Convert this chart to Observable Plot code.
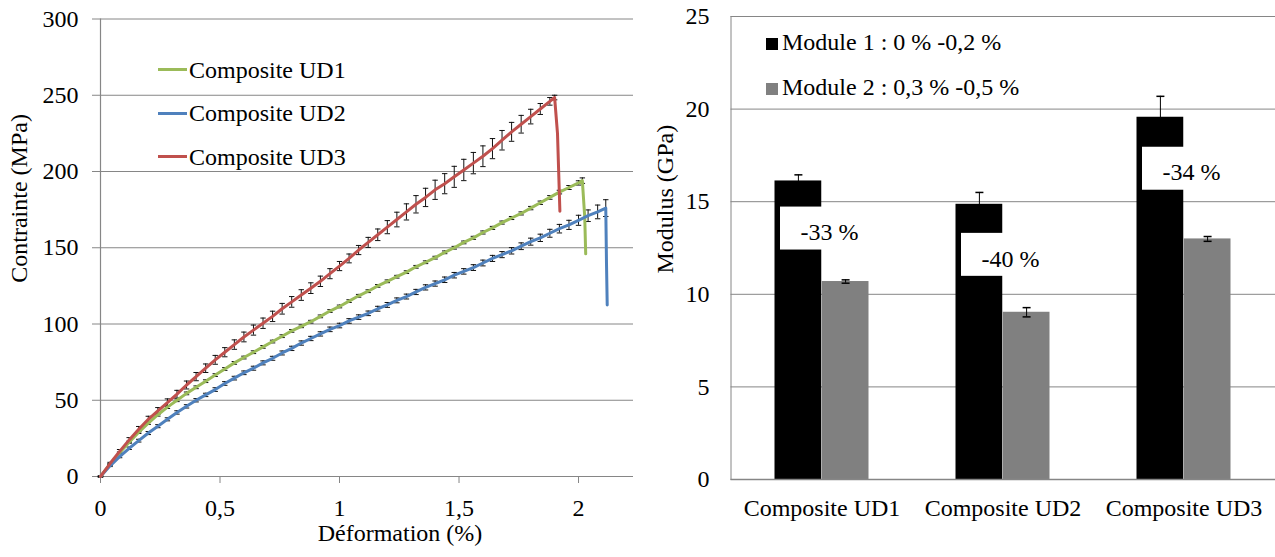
<!DOCTYPE html>
<html>
<head>
<meta charset="utf-8">
<script src="https://cdn.jsdelivr.net/npm/d3@7"></script>
<script src="https://cdn.jsdelivr.net/npm/@observablehq/plot@0.6"></script>
<style>
  html, body { margin: 0; padding: 0; background: #fff; }
  #wrap { position: relative; width: 1275px; height: 557px; overflow: hidden; font-family: "Liberation Serif", "Times New Roman", Tinos, "DejaVu Serif", serif; }
  #wrap svg, #wrap svg text { font-family: "Liberation Serif", "Times New Roman", Tinos, "DejaVu Serif", serif !important; }
  #left { position: absolute; left: 0; top: 0; }
  #right { position: absolute; left: 640px; top: 0; }
  .leg { position: absolute; font-size: 24px; line-height: 28px; color: #000; white-space: nowrap; }
  .lrow { display: flex; align-items: center; height: 28px; }
  .sw { display: inline-block; width: 29px; height: 3px; margin-right: 2px; }
  .sq { display: inline-block; width: 12px; height: 12px; margin-right: 4px; vertical-align: baseline; }
</style>
</head>
<body>
<div id="wrap">
  <div id="left"></div>
  <div id="right"></div>
  <div class="leg" style="left:158px; top:55.5px;"><div class="lrow"><span class="sw" style="background:#9BBB59"></span>Composite UD1</div></div>
  <div class="leg" style="left:158px; top:99px;"><div class="lrow"><span class="sw" style="background:#4F81BD"></span>Composite UD2</div></div>
  <div class="leg" style="left:158px; top:142.5px;"><div class="lrow"><span class="sw" style="background:#C0504D"></span>Composite UD3</div></div>
  <div class="leg" style="left:766px; top:28px;"><span class="sq" style="background:#000"></span>Module 1 : 0 % -0,2 %</div>
  <div class="leg" style="left:766px; top:73px;"><span class="sq" style="background:#808080"></span>Module 2 : 0,3 % -0,5 %</div>
</div>
<script>
// ---------- Left chart data: stress-strain curves ----------
const xTicksL = [0, 0.5, 1, 1.5, 2];
const yTicksL = [0, 50, 100, 150, 200, 250, 300];

const strainUD1 = [0,0.04,0.08,0.12,0.16,0.20,0.24,0.28,0.32,0.36,0.40,0.44,0.48,0.52,0.56,0.60,0.64,0.68,0.72,0.76,0.80,0.84,0.88,0.92,0.96,1.00,1.04,1.08,1.12,1.16,1.20,1.24,1.28,1.32,1.36,1.40,1.44,1.48,1.52,1.56,1.60,1.64,1.68,1.72,1.76,1.80,1.84,1.88,1.92,1.96,2.00,2.016,2.026,2.03];
const stressUD1 = [0,8,15.5,22.5,29,35,40.5,45.5,50,54.5,58.5,62.5,66.5,70.5,74.5,78,81.5,85,88.5,92,95.5,98.5,101.5,105,108.5,111.5,115,118.5,121.5,125,128,131,134,137.5,140.5,143.5,147,150,153.5,156.5,160,163,166.5,169.5,172.5,176,179.5,183,186.5,189.5,192.5,194,170,146];
const errUD1 = [0.3,0.5,0.6,0.7,0.8,0.8,0.9,0.9,0.9,0.9,0.9,0.9,0.9,0.9,0.9,0.9,0.9,0.9,0.9,0.9,0.9,0.9,0.9,0.9,0.9,0.9,0.9,0.9,0.9,0.9,0.9,0.9,0.9,0.9,0.9,0.9,0.9,0.9,0.9,1.0,1.0,1.0,1.0,1.0,1.0,1.1,1.1,1.2,1.2,1.3,1.4,1.8,0,0];

const strainUD2 = [0,0.04,0.08,0.12,0.16,0.20,0.24,0.28,0.32,0.36,0.40,0.44,0.48,0.52,0.56,0.60,0.64,0.68,0.72,0.76,0.80,0.84,0.88,0.92,0.96,1.00,1.04,1.08,1.12,1.16,1.20,1.24,1.28,1.32,1.36,1.40,1.44,1.48,1.52,1.56,1.60,1.64,1.68,1.72,1.76,1.80,1.84,1.88,1.92,1.96,2.00,2.04,2.08,2.114,2.117,2.12];
const stressUD2 = [0,7,13,18.5,23.5,28.5,33,37.5,42,46,50,53.5,57,61,64.5,68,71,74.5,77.5,81,84,87.5,90.5,93.5,96.5,99,102,104.5,107,110,112.5,115.5,118,121,124,126.5,129,132,134.5,137,140,143,145.5,148,151,154,156.5,159.5,162.5,165,168,171,173.5,176,140,112.5];
const errUD2 = [0.3,0.5,0.7,0.8,0.9,1.0,1.0,1.0,1.1,1.1,1.1,1.1,1.2,1.2,1.2,1.2,1.3,1.3,1.3,1.3,1.4,1.4,1.4,1.4,1.5,1.5,1.5,1.5,1.5,1.6,1.6,1.6,1.6,1.7,1.7,1.7,1.8,1.8,1.8,1.9,1.9,2.0,2.0,2.1,2.2,2.3,2.4,2.6,2.8,3.0,3.3,3.8,4.5,5.5,0,0];

const strainUD3 = [0,0.04,0.08,0.12,0.16,0.20,0.24,0.28,0.32,0.36,0.40,0.44,0.48,0.52,0.56,0.60,0.64,0.68,0.72,0.76,0.80,0.84,0.88,0.92,0.96,1.00,1.04,1.08,1.12,1.16,1.20,1.24,1.28,1.32,1.36,1.40,1.44,1.48,1.52,1.56,1.60,1.64,1.68,1.72,1.76,1.80,1.84,1.88,1.90,1.912,1.922];
const stressUD3 = [0,8.5,16.5,24,31,37.5,43,48.5,54,60,65.5,71,76.5,81.5,86.5,91.5,96,100.5,105,110,114.5,119,123.5,128,133,138,143,148.5,153.5,158.5,163.5,168.5,173.5,178.5,183,188,192,196.5,201,205.5,210,215,220.5,226,231,236,241,246,248.5,225,174];
const errUD3 = [0.3,0.8,1.2,1.5,1.8,2.0,2.2,2.4,2.5,2.6,2.7,2.8,2.9,3.0,3.1,3.2,3.3,3.4,3.4,3.5,3.5,3.5,3.5,3.4,3.3,3.0,2.9,3.0,3.3,3.8,4.3,4.8,5.3,5.7,6.0,6.3,6.6,6.9,7.0,7.0,6.8,6.6,6.4,6.2,5.8,4.8,3.6,2.5,1.5,0,0];

const seriesNames = ["Composite UD1", "Composite UD2", "Composite UD3"];
const seriesColors = ["#9BBB59", "#4F81BD", "#C0504D"];

// ---------- Right chart data: moduli ----------
const categories = ["Composite UD1", "Composite UD2", "Composite UD3"];
const module1 = [16.12, 14.86, 19.56];
const module1Err = [0.33, 0.64, 1.13];
const module2 = [10.69, 9.03, 12.99];
const module2Err = [0.09, 0.25, 0.13];
const annotLabels = ["-33 %", "-40 %", "-34 %"];
const annotY = [13.55, 12.13, 16.78];
const yTicksR = [0, 5, 10, 15, 20, 25];

// ---------- build tables ----------
const GRID = "#868686";
const FONT = "'Liberation Serif', 'Times New Roman', Tinos, 'DejaVu Serif', serif";
const curves = [
  {name: seriesNames[0], color: seriesColors[0], strain: strainUD1, stress: stressUD1, err: errUD1},
  {name: seriesNames[1], color: seriesColors[1], strain: strainUD2, stress: stressUD2, err: errUD2},
  {name: seriesNames[2], color: seriesColors[2], strain: strainUD3, stress: stressUD3, err: errUD3}
].map(c => ({...c, rows: c.strain.map((x, i) => ({x, y: c.stress[i], e: c.err[i]}))}));
const errRows = curves.flatMap(c => c.rows.filter(r => r.e > 0));

const capSymbol = {
  draw(ctx, size) {
    const r = Math.sqrt(size / Math.PI);
    ctx.moveTo(-r, 0);
    ctx.lineTo(r, 0);
  }
};

const left = Plot.plot({
  width: 640, height: 557,
  marginLeft: 100, marginRight: 7, marginTop: 18.5, marginBottom: 81,
  x: {domain: [0, 2.23]},
  y: {domain: [0, 300]},
  style: {fontFamily: FONT, fontSize: "24px", background: "#fff", color: "#000"},
  marks: [
    Plot.ruleY(yTicksL.filter(v => v > 0), {stroke: GRID, strokeWidth: 1}),
    Plot.ruleY([0], {stroke: GRID, strokeWidth: 1.2}),
    Plot.ruleX([0], {stroke: GRID, strokeWidth: 1.2}),
    Plot.axisY({ticks: yTicksL, tickSize: 8, tickPadding: 14, stroke: GRID, fill: "#000", fontSize: 24, label: null}),
    Plot.axisX({ticks: xTicksL, tickSize: 7, tickPadding: 15, stroke: GRID, fill: "#000", fontSize: 24, label: null,
      tickFormat: d => String(d).replace(".", ",")}),
    Plot.ruleX(errRows, {x: "x", y1: d => d.y - d.e, y2: d => d.y + d.e, stroke: "#111", strokeWidth: 1}),
    Plot.dot(errRows, {x: "x", y: d => d.y + d.e, symbol: capSymbol, r: 2.7, stroke: "#111", fill: "none", strokeWidth: 1}),
    Plot.dot(errRows, {x: "x", y: d => d.y - d.e, symbol: capSymbol, r: 2.7, stroke: "#111", fill: "none", strokeWidth: 1}),
    ...curves.map(c => Plot.line(c.rows, {x: "x", y: "y", stroke: c.color, strokeWidth: 3})),
    Plot.text(["Contrainte (MPa)"], {frameAnchor: "left", rotate: -90, dx: -81, dy: 35, fontSize: 24, fill: "#000"}),
    Plot.text(["Déformation (%)"], {frameAnchor: "bottom", dx: 33, dy: 64, fontSize: 24, fill: "#000"})
  ]
});
document.getElementById("left").append(left);

const bars1 = categories.map((cat, i) => ({cat, v: module1[i], e: module1Err[i]}));
const bars2 = categories.map((cat, i) => ({cat, v: module2[i], e: module2Err[i]}));
const annots = categories.map((cat, i) => ({cat, y: annotY[i], label: annotLabels[i]}));
const OFF = 23.6;

const right = Plot.plot({
  width: 635, height: 557,
  marginLeft: 90.5, marginRight: 0, marginTop: 16, marginBottom: 78,
  x: {domain: categories, padding: 0},
  y: {domain: [0, 25]},
  style: {fontFamily: FONT, fontSize: "24px", background: "#fff", color: "#000"},
  marks: [
    Plot.ruleY(yTicksR.filter(v => v > 0), {stroke: GRID, strokeWidth: 1}),
    Plot.barY(bars1, {x: "cat", y: "v", fill: "#000", insetLeft: 43.5, insetRight: 90.75}),
    Plot.barY(bars2, {x: "cat", y: "v", fill: "#808080", insetLeft: 90.75, insetRight: 43.5}),
    Plot.ruleX(bars1, {x: "cat", y1: d => d.v - d.e, y2: d => d.v + d.e, dx: -OFF, stroke: "#000"}),
    Plot.dot(bars1, {x: "cat", y: d => d.v + d.e, dx: -OFF, symbol: capSymbol, r: 4, stroke: "#000", fill: "none"}),
    Plot.ruleX(bars2, {x: "cat", y1: d => d.v - d.e, y2: d => d.v + d.e, dx: OFF, stroke: "#000"}),
    Plot.dot(bars2, {x: "cat", y: d => d.v + d.e, dx: OFF, symbol: capSymbol, r: 4, stroke: "#000", fill: "none"}),
    Plot.dot(bars2, {x: "cat", y: d => d.v - d.e, dx: OFF, symbol: capSymbol, r: 4, stroke: "#000", fill: "none"}),
    Plot.barY(annots, {x: "cat", y1: d => d.y - 1.16, y2: d => d.y + 1.16, fill: "#fff", insetLeft: 49, insetRight: 34.5}),
    Plot.text(annots, {x: "cat", y: "y", text: "label", dx: 7.5, dy: 4, fontSize: 24, fill: "#000"}),
    Plot.ruleY([0], {stroke: GRID, strokeWidth: 1.5}),
    Plot.frame({anchor: "left", stroke: GRID}),
    Plot.axisY({ticks: yTicksR, tickSize: 0, tickPadding: 21.5, fill: "#000", fontSize: 24, label: null}),
    Plot.axisX({tickSize: 0, tickPadding: 19, fill: "#000", fontSize: 24, label: null}),
    Plot.text(["Modulus (GPa)"], {frameAnchor: "left", rotate: -90, dx: -65.5, dy: 25.5, fontSize: 24, fill: "#000"})
  ]
});
document.getElementById("right").append(right);
</script>
</body>
</html>
